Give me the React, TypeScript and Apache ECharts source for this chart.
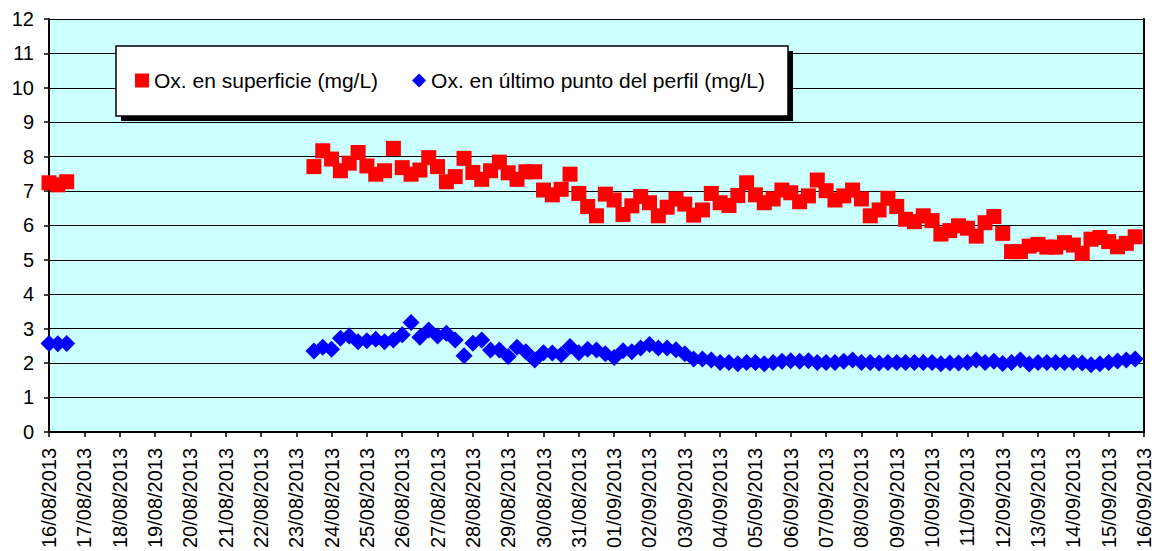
import React, { useEffect, useRef } from "react";
import * as echarts from "echarts";

// Tick labels (one per day, 16/08/2013 .. 16/09/2013)
const dateLabels = [
  "16/08/2013", "17/08/2013", "18/08/2013", "19/08/2013", "20/08/2013", "21/08/2013",
  "22/08/2013", "23/08/2013", "24/08/2013", "25/08/2013", "26/08/2013", "27/08/2013",
  "28/08/2013", "29/08/2013", "30/08/2013", "31/08/2013", "01/09/2013", "02/09/2013",
  "03/09/2013", "04/09/2013", "05/09/2013", "06/09/2013", "07/09/2013", "08/09/2013",
  "09/09/2013", "10/09/2013", "11/09/2013", "12/09/2013", "13/09/2013", "14/09/2013",
  "15/09/2013", "16/09/2013",
];

const seriesNames = [
  "Ox. en superficie (mg/L)",
  "Ox. en último punto del perfil (mg/L)",
];

// Sampling every 6 hours (0.25 day). Day offsets from 16/08/2013 00:00.
const stepDays = 0.25;
const firstBlockStart = 0; // 16/08/2013 00:00
const secondBlockStart = 7.5; // 23/08/2013 12:00

// Surface oxygen (mg/L)
const surfaceFirst = [7.24, 7.18, 7.27];
const surfaceSecond = [
  7.71, 8.17, 7.93, 7.59, 7.81, 8.12, 7.73, 7.49, 7.59, 8.24,
  7.68, 7.49, 7.61, 7.97, 7.71, 7.27, 7.42, 7.95, 7.54, 7.34,
  7.59, 7.84, 7.53, 7.34, 7.56, 7.56, 7.03, 6.89, 7.05, 7.49,
  6.93, 6.55, 6.28, 6.91, 6.74, 6.32, 6.57, 6.84, 6.66, 6.28,
  6.53, 6.77, 6.62, 6.30, 6.45, 6.93, 6.66, 6.58, 6.87, 7.24,
  6.89, 6.66, 6.77, 7.03, 6.95, 6.69, 6.86, 7.32, 7.01, 6.74,
  6.86, 7.03, 6.77, 6.28, 6.45, 6.79, 6.55, 6.18, 6.11, 6.28,
  6.14, 5.75, 5.85, 5.99, 5.92, 5.69, 6.08, 6.26, 5.77, 5.24,
  5.24, 5.40, 5.45, 5.37, 5.37, 5.50, 5.43, 5.19, 5.60, 5.65,
  5.53, 5.38, 5.48, 5.67,
];

// Oxygen at last point of the profile (mg/L)
const bottomFirst = [2.57, 2.56, 2.57];
const bottomSecond = [
  2.35, 2.46, 2.40, 2.72, 2.79, 2.62, 2.65, 2.69, 2.62, 2.67,
  2.82, 3.18, 2.75, 2.96, 2.79, 2.87, 2.67, 2.21, 2.58, 2.67,
  2.38, 2.38, 2.19, 2.46, 2.33, 2.09, 2.30, 2.29, 2.24, 2.48,
  2.30, 2.40, 2.38, 2.27, 2.16, 2.36, 2.33, 2.44, 2.54, 2.44,
  2.44, 2.39, 2.27, 2.12, 2.12, 2.09, 2.02, 2.02, 1.98, 2.02,
  2.02, 1.98, 2.02, 2.05, 2.07, 2.05, 2.07, 2.02, 2.02, 2.02,
  2.05, 2.09, 2.02, 2.02, 2.00, 2.02, 2.02, 2.02, 2.02, 2.02,
  2.02, 1.98, 2.00, 2.00, 2.02, 2.09, 2.02, 2.05, 1.99, 2.02,
  2.09, 1.97, 2.02, 2.02, 2.02, 2.02, 2.02, 2.00, 1.95, 1.98,
  2.02, 2.06, 2.09, 2.12,
];

const yTicks = { min: 0, max: 12, interval: 1 };

function toPoints(start: number, values: number[]) {
  return values.map((v, i) => [start + i * stepDays, v]);
}

const FONT = "'Liberation Sans', Arial, sans-serif";

export default function App() {
  const ref = useRef<HTMLDivElement>(null);

  useEffect(() => {
    document.body.style.margin = "0";
    if (!ref.current) return;
    const chart = echarts.init(ref.current, null, { renderer: "svg" });

    const surfaceData = [
      ...toPoints(firstBlockStart, surfaceFirst),
      ...toPoints(secondBlockStart, surfaceSecond),
    ];
    const bottomData = [
      ...toPoints(firstBlockStart, bottomFirst),
      ...toPoints(secondBlockStart, bottomSecond),
    ];

    chart.setOption({
      animation: false,
      backgroundColor: "#FFFFFF",
      textStyle: { fontFamily: FONT },
      grid: {
        left: 49,
        right: 10,
        top: 19,
        bottom: 119,
        show: true,
        backgroundColor: "#CCFFFF",
        borderWidth: 0,
      },
      xAxis: {
        type: "value",
        min: 0,
        max: dateLabels.length - 1,
        interval: 1,
        axisLine: { show: true, onZero: false, lineStyle: { color: "#000", width: 2 } },
        axisTick: { show: true, inside: false, length: 5, lineStyle: { color: "#000", width: 1.5 } },
        splitLine: { show: false },
        axisLabel: {
          rotate: 90,
          margin: 16,
          fontSize: 20,
          color: "#000",
          fontFamily: FONT,
          showMinLabel: true,
          showMaxLabel: true,
          hideOverlap: false,
          formatter: (v: number) => dateLabels[Math.round(v)] ?? "",
        },
      },
      yAxis: [
        {
          type: "value",
          min: yTicks.min,
          max: yTicks.max,
          interval: yTicks.interval,
          axisLine: { show: true, lineStyle: { color: "#000", width: 2 } },
          axisTick: { show: true, inside: false, length: 5, lineStyle: { color: "#000", width: 1.5 } },
          splitLine: { show: true, lineStyle: { color: "#000", width: 1 } },
          axisLabel: { margin: 15, fontSize: 20, color: "#000", fontFamily: FONT },
        },
        {
          type: "value",
          position: "right",
          min: yTicks.min,
          max: yTicks.max,
          interval: yTicks.interval,
          axisLine: { show: true, lineStyle: { color: "#000", width: 2 } },
          axisTick: { show: false },
          splitLine: { show: false },
          axisLabel: { show: false },
        },
      ],
      graphic: [
        {
          type: "rect",
          z: 3,
          shape: { x: 121, y: 51, width: 672, height: 70 },
          style: { fill: "#000" },
        },
        {
          type: "rect",
          z: 3,
          shape: { x: 116, y: 46, width: 672, height: 70 },
          style: { fill: "#FFFFFF", stroke: "#000", lineWidth: 1.5 },
        },
      ],
      legend: {
        z: 6,
        left: 135,
        top: 70,
        padding: 0,
        itemWidth: 14,
        itemHeight: 14,
        itemGap: 34,
        textStyle: { fontSize: 21, color: "#000", fontFamily: FONT },
        data: [
          { name: seriesNames[0], icon: "rect", itemStyle: { opacity: 1 } },
          { name: seriesNames[1], icon: "diamond", itemStyle: { opacity: 1 } },
        ],
      },
      series: [
        {
          name: seriesNames[0],
          type: "scatter",
          symbol: "rect",
          symbolSize: 15,
          clip: false,
          itemStyle: { color: "#FF0000", opacity: 1 },
          data: surfaceData,
        },
        {
          name: seriesNames[1],
          type: "scatter",
          symbol: "diamond",
          symbolSize: 17,
          clip: false,
          itemStyle: { color: "#0000FF", opacity: 1 },
          data: bottomData,
        },
      ],
    });

    return () => chart.dispose();
  }, []);

  return <div ref={ref} style={{ width: 1154, height: 551 }} />;
}
